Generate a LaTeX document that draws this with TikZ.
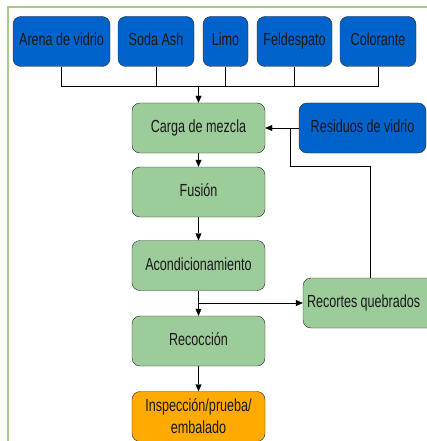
\documentclass[tikz,border=0pt]{standalone}
\usepackage{fontspec}
\setmainfont{Liberation Sans}[FakeStretch=0.72]
\usepackage{tikz}
\usepackage{xcolor}
\usetikzlibrary{calc,arrows.meta}

\definecolor{azul}{HTML}{0063CC}
\definecolor{verde}{HTML}{9CCC9A}
\definecolor{naranja}{HTML}{FFAA00}
\definecolor{marco}{HTML}{A9C98C}

\begin{document}
\begin{tikzpicture}[x=1pt,y=-1pt]
            \tikzstyle{every node}=[draw=black!85, rounded corners=8pt, minimum height=50pt, inner sep=0pt, font=\fontsize{17.5}{21}\selectfont, text=black!90]
            \tikzstyle{azulbox}=[fill=azul, text height=12.5pt, text depth=3.5pt]
            \tikzstyle{verdebox}=[fill=verde, minimum width=133pt, text height=12.5pt, text depth=3.5pt]
            \tikzstyle{flecha}=[-{Triangle[length=7pt,width=6pt]}]
            \useasboundingbox (0,0) rectangle (427,441);
            \clip (0,0) rectangle (427,441);
            \draw [marco, line width=1.2pt] (8,7) rectangle (470,480);
            % Materias primas
            \node [azulbox, minimum width=97pt] (arena) at (61.5,41.5) {Arena de vidrio};
            \node [azulbox, minimum width=76pt] (soda) at (156,41.5) {Soda Ash};
            \node [azulbox, minimum width=45pt] (limo) at (225.5,41.5) {Limo};
            \node [azulbox, minimum width=75pt] (feld) at (294.5,41.5) {Feldespato};
            \node [azulbox, minimum width=76pt] (color) at (378,41.5) {Colorante};
            % Proceso
            \node [verdebox] (carga) at (198.5,128) {Carga de mezcla};
            \node [verdebox] (fusion) at (198.5,192) {Fusión};
            \node [verdebox] (acond) at (198.5,265.5) {Acondicionamiento};
            \node [verdebox] (recoc) at (198.5,341) {Recocción};
            \node [fill=naranja, minimum width=133pt, align=center] (insp) at (198.5,416.5) {Inspección/prueba/\\[1pt]embalado};
            \node [azulbox, minimum width=127pt] (resid) at (362.5,128) {Residuos de vidrio};
            \node [verdebox, minimum width=140pt, text width=132pt, inner xsep=4pt, align=left] (recort) at (373,303) {\mbox{Recortes\kern3.2pt quebrados}};
            % Bus
            \coordinate (bus) at (198.5,86);
            \draw (arena.south) |- (bus);
            \draw (soda.south) |- (bus);
            \draw (limo.south) |- (bus);
            \draw (feld.south) |- (bus);
            \draw (color.south) |- (bus);
            \draw [flecha] (bus)--(carga.north);
            \draw [flecha] (carga)--(fusion);
            \draw [flecha] (fusion)--(acond);
            \draw [flecha] (acond)--(recoc);
            \draw [flecha] (recoc)--(insp);
            \draw [flecha] (resid)--(carga);
            \coordinate (ret) at ($(carga.east) + (25,0)$);
            \draw ($(recort.north) + (-3,0)$) |- ($(ret) + (0,38)$) -- (ret);
            \coordinate (corte) at (198.5,303);
            \draw [flecha] (corte)--(recort.west);
        \end{tikzpicture}
\end{document}
